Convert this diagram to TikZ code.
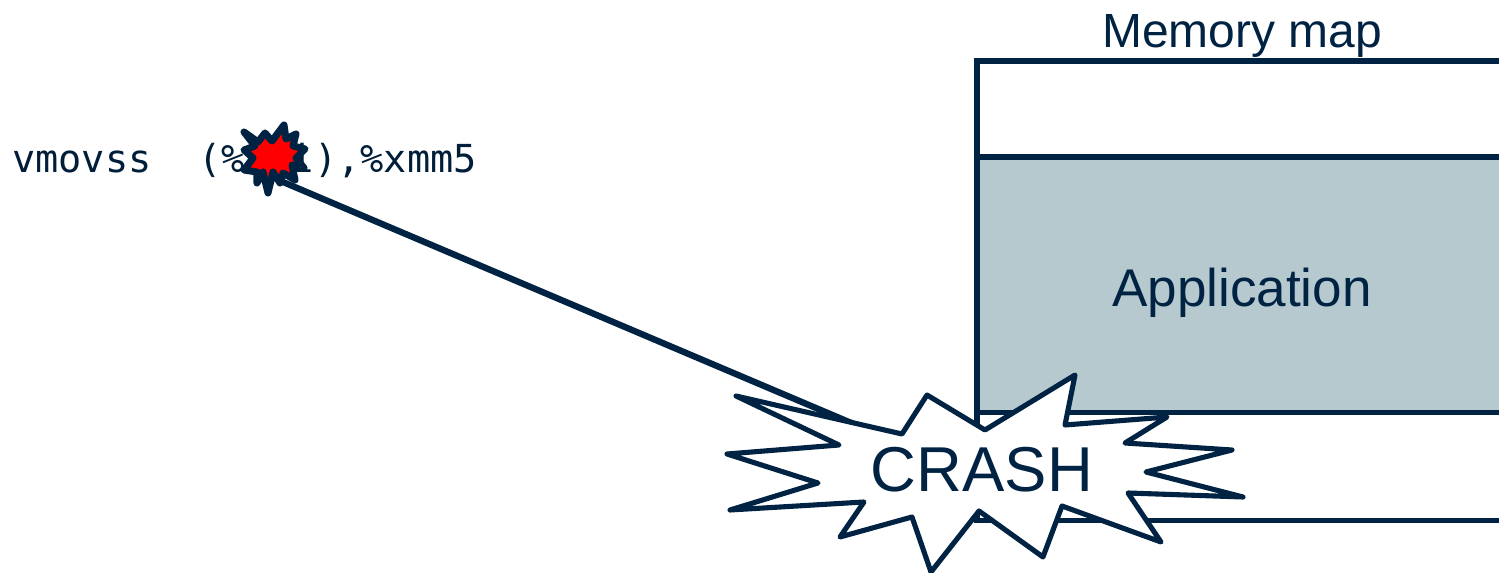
\documentclass[tikz,border=0pt]{standalone}
\usepackage{fontspec}
\setmainfont{Liberation Sans}
\newfontfamily\codefont{DejaVu Sans Mono}
\usepackage{xcolor}
\usetikzlibrary{positioning}
\definecolor{lineA}{RGB}{0, 35, 67}
\definecolor{appfill}{RGB}{181, 201, 207}

\begin{document}
\begin{tikzpicture}[
    x=0.02cm, y=-0.02cm,
    membox/.style={rectangle, draw=lineA, line width=2.9pt, minimum width=10.8cm, outer sep=0pt, inner sep=0pt},
    burst/.style={draw=lineA, line width=2.9pt, line join=round, fill=white},
    hitburst/.style={draw=lineA, line width=4pt, line join=round, fill=red},
    linkline/.style={draw=lineA, line width=3.6pt}
]
\useasboundingbox (0,0) rectangle (1499,573);
\clip (0,0) rectangle (1499,573);

\node[membox, anchor=north west, minimum height=1.92cm] (M1) at (977,61) {};
\node[membox, fill=appfill, minimum height=5.12cm, below=0cm of M1] (M2) {};
\node[membox, minimum height=2.16cm, below=0cm of M2] (M3) {};
\node[text=lineA, font=\fontsize{27.3}{33}\selectfont] (maptitle) at (1242,36) {Memory map};
\node[text=lineA, font=\fontsize{30.2}{36}\selectfont] (applabel) at (1242,293) {Application};

\node[anchor=base west, inner sep=0pt, text=lineA!85!black, font=\codefont\fontsize{21.95}{26}\selectfont] (code) at (12,173) {vmovss\ \ (\%rdi),\%xmm5};

\coordinate (hit) at (283,182);
\coordinate (impact) at (981,478);
\draw[linkline] (hit) -- (impact);

% small burst over the register name
\draw[hitburst] (244,132) -- (258,142) -- (265,133) -- (272,141) -- (284,125) -- (286,139) -- (296,134) -- (293,146) -- (305,149) -- (296,158) -- (304,168) -- (292,165) -- (295,180) -- (283,173) -- (280,183) -- (273,172) -- (268,193) -- (263,172) -- (257,183) -- (257,172) -- (244,170) -- (253,158) -- (244,150) -- (255,146) -- cycle;

% big burst
\draw[burst] (736,396) -- (902,434) -- (927,395) -- (985,430) -- (1075,375) -- (1065,425) -- (1167,417) -- (1125,443) -- (1232,450) -- (1146,472) -- (1243,497) -- (1128,493) -- (1161,542) -- (1062,506) -- (1043,557) -- (979,511) -- (931,572) -- (912,517) -- (840,537) -- (864,502) -- (730,510) -- (818,483) -- (727,454) -- (839,445) -- cycle;

\node[text=lineA, font=\fontsize{36.1}{42}\selectfont] (crash) at (982,470) {CRASH};
\end{tikzpicture}
\end{document}
